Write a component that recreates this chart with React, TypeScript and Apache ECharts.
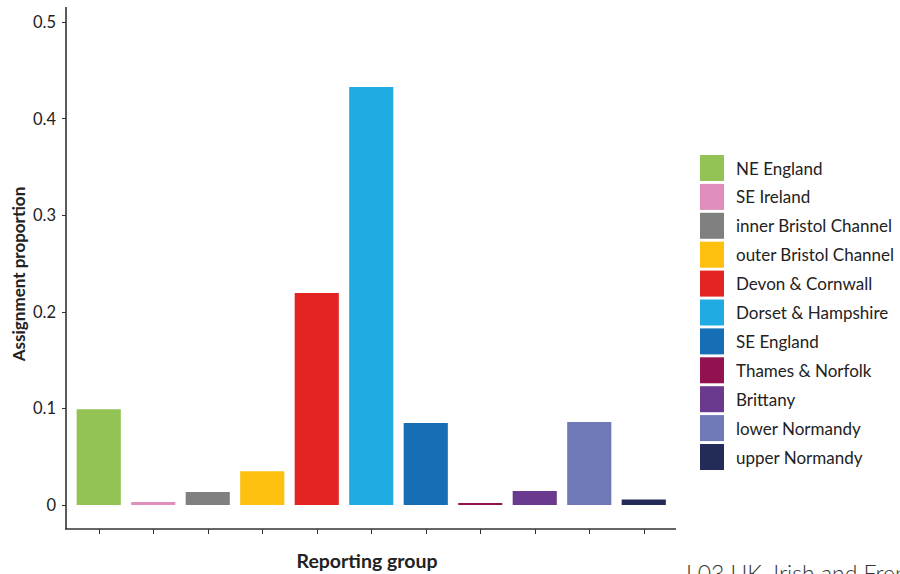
import React, { useEffect, useRef } from "react";
import * as echarts from "echarts";

const groups = [
  "NE England",
  "SE Ireland",
  "inner Bristol Channel",
  "outer Bristol Channel",
  "Devon & Cornwall",
  "Dorset & Hampshire",
  "SE England",
  "Thames & Norfolk",
  "Brittany",
  "lower Normandy",
  "upper Normandy",
];
const proportions = [0.099, 0.003, 0.0135, 0.035, 0.2195, 0.4327, 0.085, 0.002, 0.0145, 0.086, 0.0058];
const colors = [
  "#93C354",
  "#E08FBC",
  "#808080",
  "#FDC00F",
  "#E42422",
  "#21ABE3",
  "#166EB5",
  "#921250",
  "#6A3A8E",
  "#6F79B8",
  "#232B58",
];
const yTicks = [0, 0.1, 0.2, 0.3, 0.4, 0.5];

const FONT = "Lato, 'Open Sans', sans-serif";

export default function App() {
  const ref = useRef<HTMLDivElement>(null);
  useEffect(() => {
    if (!ref.current) return;
    const chart = echarts.init(ref.current, undefined, { renderer: "svg" });
    const series = groups.map((g, i) => ({
      name: g,
      type: "bar",
      stack: "all",
      barWidth: "81%",
      xAxisIndex: 0,
      yAxisIndex: 0,
      itemStyle: { color: colors[i] },
      data: groups.map((_, j) => (j === i ? proportions[i] : null)),
    }));
    chart.setOption({
      animation: false,
      textStyle: { fontFamily: FONT },
      grid: [
        { left: 71.5, right: 229, top: 22, bottom: 69, containLabel: false },
        { left: 71.5, right: 229, top: 528, height: 1, containLabel: false },
      ],
      legend: {
        orient: "vertical",
        left: 695,
        top: 150,
        padding: 5,
        icon: "rect",
        itemWidth: 24,
        itemHeight: 26,
        itemGap: 2.9,
        selectedMode: false,
        textStyle: { fontSize: 17, color: "#222", fontFamily: FONT, padding: [0, 0, 0, 7] },
        data: groups,
      },
      xAxis: [
        {
          type: "category",
          gridIndex: 0,
          data: groups,
          axisLine: { show: false },
          axisTick: { show: false },
          axisLabel: { show: false },
          splitLine: { show: false },
        },
        {
          type: "category",
          gridIndex: 1,
          data: groups,
          position: "bottom",
          axisLine: { show: false },
          axisTick: { show: true, interval: 0, alignWithLabel: true, length: 5, lineStyle: { color: "#333", width: 1 } },
          axisLabel: { show: false, interval: 0 },
          splitLine: { show: false },
        },
      ],
      yAxis: [
        {
          type: "value",
          gridIndex: 0,
          min: yTicks[0],
          max: yTicks[yTicks.length - 1],
          interval: 0.1,
          offset: 5.5,
          axisLine: { show: false },
          axisTick: { show: true, length: 4, lineStyle: { color: "#333", width: 1 } },
          axisLabel: {
            margin: 10,
            fontSize: 16.5,
            color: "#222",
            fontFamily: FONT,
            formatter: (v: number) => (v === 0 ? "0" : v.toFixed(1)),
          },
          splitLine: { show: false },
        },
        {
          type: "value",
          gridIndex: 1,
          show: false,
          min: 0,
          max: 1,
        },
      ],
      graphic: [
        { type: "line", shape: { x1: 66, y1: 7, x2: 66, y2: 529.5 }, style: { stroke: "#333", lineWidth: 1.6 } },
        { type: "line", shape: { x1: 65.2, y1: 529, x2: 676, y2: 529 }, style: { stroke: "#333", lineWidth: 1.6 } },
        {
          type: "text",
          x: 18,
          y: 274,
          rotation: Math.PI / 2,
          style: {
            text: "Assignment proportion",
            fontSize: 17,
            fontWeight: "bold",
            fill: "#222",
            fontFamily: FONT,
            align: "center",
            verticalAlign: "middle",
          },
        },
        {
          type: "text",
          x: 367,
          y: 560,
          style: {
            text: "Reporting group",
            fontSize: 19.5,
            fontWeight: "bold",
            fill: "#222",
            fontFamily: FONT,
            align: "center",
            verticalAlign: "middle",
          },
        },
        {
          type: "text",
          x: 686,
          y: 561,
          style: {
            text: "L03 UK, Irish and French",
            fontSize: 23,
            fontWeight: 300,
            fill: "#333",
            fontFamily: FONT,
            align: "left",
            verticalAlign: "top",
          },
        },
      ],
      series,
    });
    return () => chart.dispose();
  }, []);
  return (
    <div
      ref={ref}
      style={{ position: "fixed", left: 0, top: 0, width: 900, height: 574, background: "#fff" }}
    />
  );
}
